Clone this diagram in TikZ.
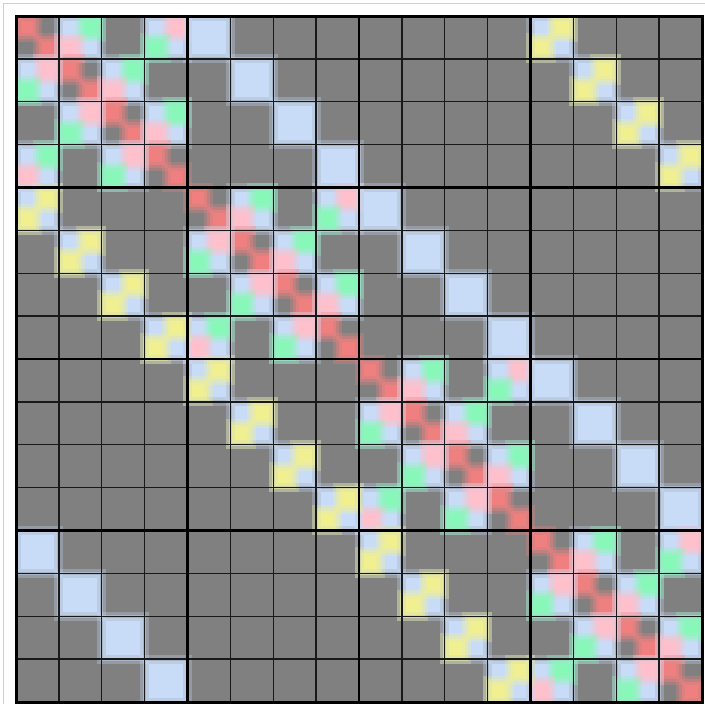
\documentclass[tikz,border=0pt]{standalone}
\usetikzlibrary{calc}
\definecolor{cgray}{HTML}{808080}
\definecolor{cred}{HTML}{F08080}
\definecolor{cpink}{HTML}{FFC0CB}
\definecolor{cgreen}{HTML}{88F8B8}
\definecolor{cblue}{HTML}{C8DCF8}
\definecolor{cyel}{HTML}{F0F090}
\definecolor{cframe}{HTML}{D0D0D0}
\tikzset{
  thinline/.style={line width=1.4pt, draw=black!90},
  blockline/.style={line width=2.6pt, draw=black},
  outerline/.style={line width=3pt, draw=black},
  frameline/.style={line width=1pt, draw=cframe},
}
\newcommand{\cs}{42.875}
% \soft{x}{y}{w}{h}{color}: soft-edged square, (x,y) top-left in px
\newcommand{\soft}[5]{%
  \fill[#5,fill opacity=0.3] (#1-4.5,-#2+4.5) rectangle ++(#3+9,-#4-9);%
  \fill[#5,fill opacity=0.4] (#1-1.5,-#2+1.5) rectangle ++(#3+3,-#4-3);%
  \fill[#5,fill opacity=0.6] (#1+1.5,-#2-1.5) rectangle ++(#3-3,-#4+3);%
  \fill[#5] (#1+4.5,-#2-4.5) rectangle ++(#3-9,-#4+9);%
}
% \sq{row}{col}{subx}{suby}{color}
\newcommand{\sq}[5]{%
  \pgfmathsetmacro{\xa}{16+#2*\cs+#3*\cs/2}%
  \pgfmathsetmacro{\ya}{16+#1*\cs+#4*\cs/2}%
  \pgfmathsetmacro{\ww}{\cs/2}%
  \soft{\xa}{\ya}{\ww}{\ww}{#5}%
}
\newcommand{\whole}[3]{% row col color
  \pgfmathsetmacro{\xa}{16+#2*\cs}%
  \pgfmathsetmacro{\ya}{16+#1*\cs}%
  \soft{\xa}{\ya}{\cs}{\cs}{#3}%
}
\begin{document}
\begin{tikzpicture}[x=1pt,y=1pt]
\useasboundingbox (0,0) rectangle (705,-704);
\fill[white] (0,0) rectangle (705,-704);
\draw[frameline] (3.5,-704) -- (3.5,-3.5) -- (705,-3.5);
\begin{scope}
\clip (16,-16) rectangle (702,-702);
\fill[cgray] (16,-16) rectangle (702,-702);
\foreach \I in {0,...,3}{
  \foreach \a in {0,...,3}{
    \pgfmathtruncatemacro{\r}{4*\I+\a}
    \pgfmathtruncatemacro{\cg}{4*\I+mod(\a+1,4)}
    \pgfmathtruncatemacro{\cp}{4*\I+mod(\a+3,4)}
    \pgfmathtruncatemacro{\cb}{4*mod(\I+1,4)+\a}
    \pgfmathtruncatemacro{\cy}{4*mod(\I+3,4)+\a}
    % red diagonal
    \sq{\r}{\r}{0}{0}{cred}\sq{\r}{\r}{1}{1}{cred}
    % green top-right
    \whole{\r}{\cg}{cblue}\sq{\r}{\cg}{1}{0}{cgreen}\sq{\r}{\cg}{0}{1}{cpink}
    % pink top-right
    \whole{\r}{\cp}{cblue}\sq{\r}{\cp}{1}{0}{cpink}\sq{\r}{\cp}{0}{1}{cgreen}
    % solid blue
    \whole{\r}{\cb}{cblue}
    % yellow
    \whole{\r}{\cy}{cblue}\sq{\r}{\cy}{1}{0}{cyel}\sq{\r}{\cy}{0}{1}{cyel}
  }
}
\end{scope}
\foreach \k in {1,...,15}{
  \pgfmathsetmacro{\p}{16+\k*\cs}
  \draw[thinline] (\p,-16) -- (\p,-702);
  \draw[thinline] (16,-\p) -- (702,-\p);
}
\foreach \k in {4,8,12}{
  \pgfmathsetmacro{\p}{16+\k*\cs}
  \draw[blockline] (\p,-16) -- (\p,-702);
  \draw[blockline] (16,-\p) -- (702,-\p);
}
\draw[outerline] (16,-16) rectangle (702,-702);
\end{tikzpicture}
\end{document}
